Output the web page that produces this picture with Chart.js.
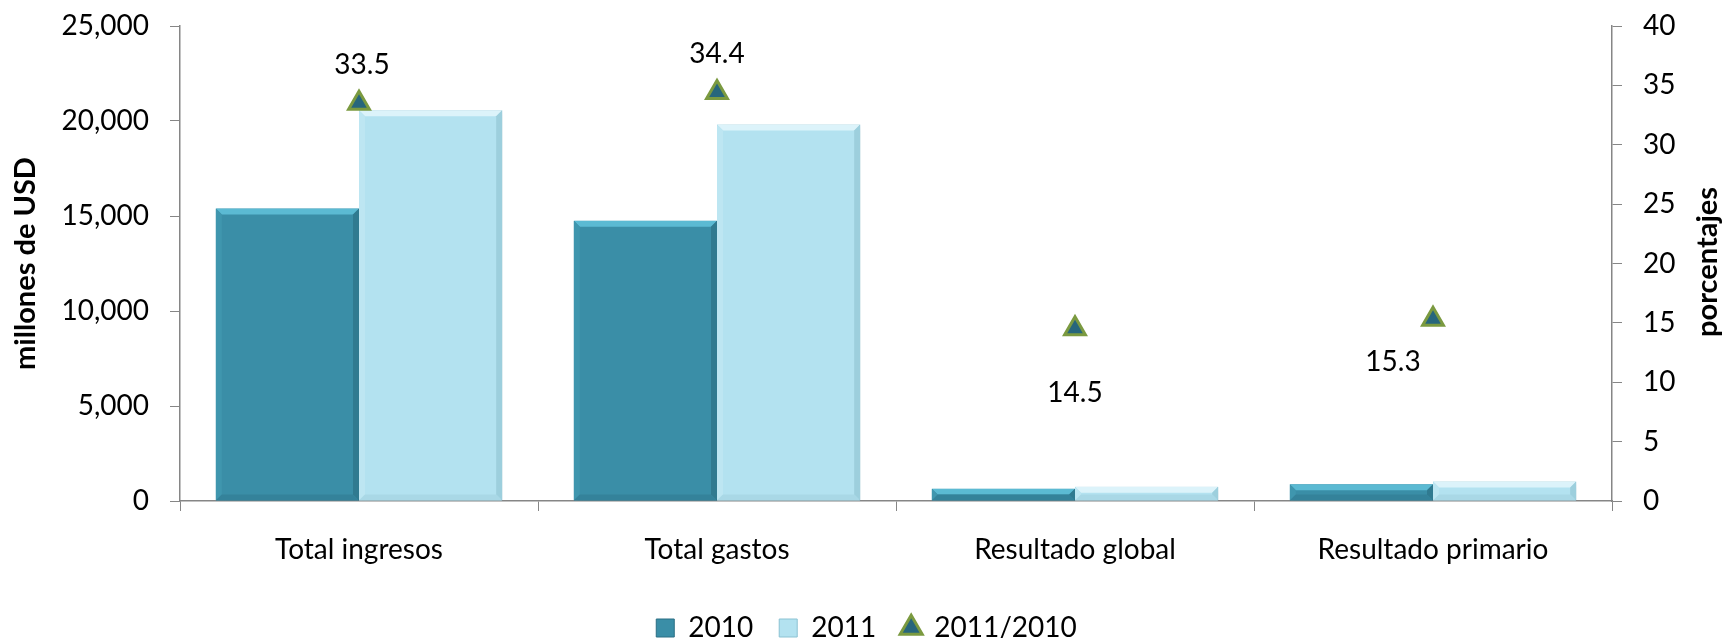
<!DOCTYPE html>
<html>
<head>
<meta charset="utf-8">
<script src="https://cdn.jsdelivr.net/npm/chart.js@4.4.0/dist/chart.umd.min.js"></script>
<style>
  html, body { margin: 0; padding: 0; background: #fff; }
  #wrap { width: 1733px; height: 638px; }
</style>
</head>
<body>
<div id="wrap"><canvas id="myChart" width="1733" height="638"></canvas></div>
<script>
// Data
const categories = ["Total ingresos", "Total gastos", "Resultado global", "Resultado primario"];
const values2010 = [15400, 14750, 650, 885];
const values2011 = [20560, 19820, 745, 1020];
const growth = [33.5, 34.4, 14.5, 15.3];

// axis ranges
const usdMax = 25000, usdStep = 5000;
const pctMax = 40, pctStep = 5;

// where each growth label sits relative to its triangle
const labelOffsets = [[3, -38], [0, -39], [0, 64], [-40, 43]];

const FONT = "Lato, 'Open Sans', sans-serif";
const AXIS = "#868686";

// bevel colours per bar series: [top, left, right, bottom]
const bevels = [
  ["#5bbad3", "#3f96ae", "#307a90", "#34829a"],
  ["#dcf3fa", "#bde6f2", "#9dcfdd", "#a9d8e6"]
];

function drawBevel(ctx, bar, cols) {
  const left = bar.x - bar.width / 2;
  const right = bar.x + bar.width / 2;
  const top = Math.min(bar.y, bar.base);
  const bottom = Math.max(bar.y, bar.base);
  const d = Math.min(6, (bottom - top) / 2, bar.width / 4);
  const poly = (pts, c) => {
    ctx.beginPath();
    ctx.moveTo(pts[0][0], pts[0][1]);
    for (let k = 1; k < pts.length; k++) ctx.lineTo(pts[k][0], pts[k][1]);
    ctx.closePath();
    ctx.fillStyle = c;
    ctx.fill();
  };
  poly([[left, top], [right, top], [right - d, top + d], [left + d, top + d]], cols[0]);
  poly([[left, top], [left + d, top + d], [left + d, bottom - d], [left, bottom]], cols[1]);
  poly([[right, top], [right, bottom], [right - d, bottom - d], [right - d, top + d]], cols[2]);
  poly([[left, bottom], [left + d, bottom - d], [right - d, bottom - d], [right, bottom]], cols[3]);
}

const extras = {
  id: "extras",
  afterLayout(chart) {
    // push the legend down to the bottom edge
    chart.legend.top += 14;
    chart.legend.bottom += 14;
  },
  beforeDatasetDraw(chart, args) {
    // soft shadow behind the bars
    if (args.index < 2) {
      chart.ctx.save();
      chart.ctx.shadowColor = "rgba(0,0,0,0.22)";
      chart.ctx.shadowBlur = 6;
      chart.ctx.shadowOffsetX = 3;
      chart.ctx.shadowOffsetY = 2;
    }
  },
  afterDatasetDraw(chart, args) {
    if (args.index < 2) {
      const ctx = chart.ctx;
      ctx.restore();
      ctx.save();
      args.meta.data.forEach(bar => drawBevel(ctx, bar, bevels[args.index]));
      ctx.restore();
    }
  },
  afterDatasetsDraw(chart) {
    const ctx = chart.ctx;
    const meta = chart.getDatasetMeta(2);
    ctx.save();
    ctx.font = "28px " + FONT;
    ctx.fillStyle = "#000";
    ctx.textAlign = "center";
    ctx.textBaseline = "middle";
    meta.data.forEach((pt, i) => {
      ctx.fillText(growth[i].toFixed(1), pt.x + labelOffsets[i][0], pt.y + labelOffsets[i][1]);
    });
    ctx.restore();
  },
  afterDraw(chart) {
    // right axis title reads bottom-to-top like the original
    const ctx = chart.ctx;
    ctx.save();
    ctx.translate(1708, 262);
    ctx.rotate(-Math.PI / 2);
    ctx.font = "bold 29px " + FONT;
    ctx.fillStyle = "#000";
    ctx.textAlign = "center";
    ctx.textBaseline = "middle";
    ctx.fillText("porcentajes", 0, 0);
    ctx.restore();
  }
};

const ctx = document.getElementById("myChart").getContext("2d");
new Chart(ctx, {
  type: "bar",
  data: {
    labels: categories,
    datasets: [
      {
        label: "2010",
        data: values2010,
        backgroundColor: "#3a8ea7",
        borderColor: "#2b6f84",
        borderWidth: 1,
        yAxisID: "y",
        order: 1
      },
      {
        label: "2011",
        data: values2011,
        backgroundColor: "#b3e2f0",
        borderColor: "#8cc3d3",
        borderWidth: 1,
        yAxisID: "y",
        order: 1
      },
      {
        type: "line",
        label: "2011/2010",
        data: growth,
        yAxisID: "y1",
        showLine: false,
        pointStyle: "triangle",
        pointRadius: 12,
        pointHoverRadius: 12,
        pointBackgroundColor: "#27667c",
        pointBorderColor: "#7b9a40",
        pointBorderWidth: 3,
        backgroundColor: "#27667c",
        borderColor: "#7b9a40",
        order: 0
      }
    ]
  },
  options: {
    responsive: false,
    animation: false,
    layout: { padding: { top: 26, left: 0, right: 0, bottom: 0 } },
    datasets: {
      bar: { categoryPercentage: 0.8, barPercentage: 1.0 }
    },
    plugins: {
      tooltip: { enabled: false },
      legend: {
        position: "bottom",
        labels: {
          font: { family: FONT, size: 28 },
          color: "#000",
          boxWidth: 18,
          boxHeight: 18,
          padding: 26,
          usePointStyle: true,
          generateLabels(chart) {
            const items = Chart.defaults.plugins.legend.labels.generateLabels(chart);
            items.forEach(it => {
              if (it.datasetIndex < 2) {
                it.pointStyle = "rect";
                it.lineWidth = 1;
              } else {
                it.pointStyle = "triangle";
                it.lineWidth = 3;
              }
            });
            return items;
          },
          sort: (a, b) => a.datasetIndex - b.datasetIndex
        }
      }
    },
    scales: {
      x: {
        grid: {
          offset: true,
          drawOnChartArea: false,
          drawTicks: true,
          tickLength: 10,
          color: AXIS
        },
        border: { color: AXIS, width: 1.5 },
        ticks: {
          font: { family: FONT, size: 28 },
          color: "#000",
          padding: 22,
          maxRotation: 0
        },
        afterFit(scale) {
          scale.height = 638 - scale.chart.legend.height - 501;
        }
      },
      y: {
        position: "left",
        min: 0,
        max: usdMax,
        ticks: {
          stepSize: usdStep,
          font: { family: FONT, size: 28 },
          color: "#000",
          padding: 21,
          callback: v => v.toLocaleString("en-US")
        },
        grid: {
          drawOnChartArea: false,
          drawTicks: true,
          tickLength: 10,
          color: AXIS
        },
        border: { color: AXIS, width: 1.5 },
        title: {
          display: true,
          text: "millones de USD",
          font: { family: FONT, size: 29, weight: "bold" },
          color: "#000",
          padding: { top: 8, bottom: 0 }
        },
        afterFit(scale) {
          scale.width = 180;
          scale.paddingTop = 0;
          scale.paddingBottom = 0;
        }
      },
      y1: {
        position: "right",
        min: 0,
        max: pctMax,
        ticks: {
          stepSize: pctStep,
          font: { family: FONT, size: 28 },
          color: "#000",
          padding: 21
        },
        grid: {
          drawOnChartArea: false,
          drawTicks: true,
          tickLength: 10,
          color: AXIS
        },
        border: { color: AXIS, width: 1.5 },
        afterFit(scale) {
          scale.width = 1733 - 1612;
          scale.paddingTop = 0;
          scale.paddingBottom = 0;
        }
      }
    }
  },
  plugins: [extras]
});
</script>
</body>
</html>
